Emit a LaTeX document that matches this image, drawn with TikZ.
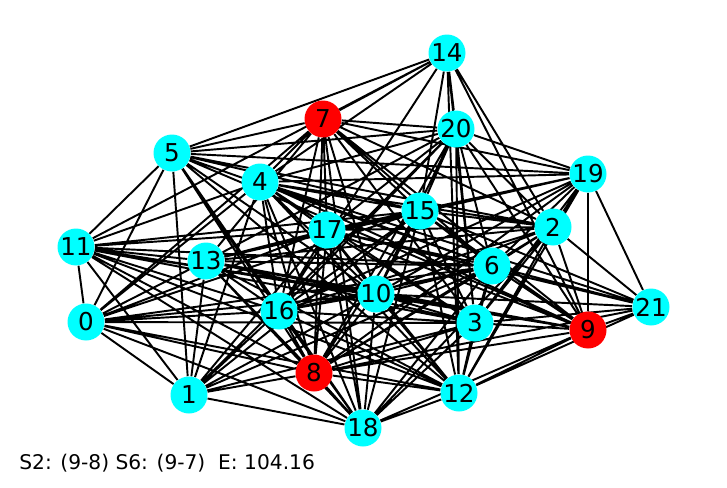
\documentclass[tikz,border=0pt]{standalone}
\usepackage{fontspec}
\setmainfont{DejaVu Sans}
\usetikzlibrary{backgrounds}
\definecolor{nodecyan}{RGB}{0,255,255}
\definecolor{nodered}{RGB}{255,0,0}
\begin{document}
\begin{tikzpicture}[x=0.02cm,y=-0.02cm,
    vert/.style={circle,fill=nodecyan,minimum size=0.74cm,inner sep=0pt,font=\fontsize{14}{16}\selectfont},
    hot/.style={vert,fill=nodered},
    edge/.style={line width=1.1pt,black}]
    \useasboundingbox (0,0) rectangle (727,487);
                    \node[vert] (n14) at (447,53) {14};
                    \node[hot] (n7) at (323,119) {7};
                    \node[vert] (n20) at (456,129) {20};
                    \node[vert] (n5) at (172,153) {5};
                    \node[vert] (n19) at (588,174) {19};
                    \node[vert] (n4) at (260,182) {4};
                    \node[vert] (n15) at (420,211) {15};
                    \node[vert] (n2) at (553,227) {2};
                    \node[vert] (n17) at (327,230) {17};
                    \node[vert] (n11) at (76,247) {11};
                    \node[vert] (n13) at (206,261) {13};
                    \node[vert] (n6) at (492,266) {6};
                    \node[vert] (n10) at (376,294) {10};
                    \node[vert] (n21) at (651,307) {21};
                    \node[vert] (n16) at (279,311) {16};
                    \node[vert] (n0) at (86,322) {0};
                    \node[vert] (n3) at (475,323) {3};
                    \node[hot] (n9) at (588,330) {9};
                    \node[hot] (n8) at (314,373) {8};
                    \node[vert] (n1) at (189,395) {1};
                    \node[vert] (n12) at (459,393) {12};
                    \node[vert] (n18) at (363,428) {18};
                    \node[anchor=base west,inner sep=0pt,font=\fontsize{11.5}{14}\selectfont] (info) at (19,469) {S2: (9-8) S6: (9-7)\ \ E: 104.16};

                \begin{pgfonlayer}{background}
                    \draw[edge] (n14) -- (n5) (n14) -- (n7) (n14) -- (n4) (n14) -- (n11) (n14) -- (n16) (n14) -- (n15)
                           (n14) -- (n20) (n14) -- (n3) (n14) -- (n12) (n14) -- (n2) (n14) -- (n9)
                           (n7) -- (n5) (n7) -- (n20) (n7) -- (n19) (n7) -- (n4) (n7) -- (n13) (n7) -- (n0)
                           (n7) -- (n16) (n7) -- (n17) (n7) -- (n8) (n7) -- (n10) (n7) -- (n15) (n7) -- (n6)
                           (n7) -- (n3) (n7) -- (n2) (n7) -- (n9) (n7) -- (n18)
                           (n20) -- (n19) (n20) -- (n4) (n20) -- (n5) (n20) -- (n13) (n20) -- (n15) (n20) -- (n16)
                           (n20) -- (n1) (n20) -- (n3) (n20) -- (n12) (n20) -- (n6) (n20) -- (n2) (n20) -- (n9)
                           (n20) -- (n8) (n20) -- (n10) (n20) -- (n17)
                           (n19) -- (n9) (n19) -- (n21) (n19) -- (n5) (n19) -- (n4) (n19) -- (n17) (n19) -- (n15)
                           (n19) -- (n13) (n19) -- (n2) (n19) -- (n6) (n19) -- (n3) (n19) -- (n12) (n19) -- (n10)
                           (n19) -- (n16) (n19) -- (n8)
                           (n5) -- (n15) (n5) -- (n2) (n5) -- (n6) (n5) -- (n9) (n5) -- (n10) (n5) -- (n11)
                           (n5) -- (n0) (n5) -- (n1) (n5) -- (n16) (n5) -- (n8) (n5) -- (n18) (n5) -- (n12)
                           (n4) -- (n15) (n4) -- (n2) (n4) -- (n6) (n4) -- (n21) (n4) -- (n9) (n4) -- (n3)
                           (n4) -- (n10) (n4) -- (n17) (n4) -- (n16) (n4) -- (n8) (n4) -- (n18) (n4) -- (n12)
                           (n4) -- (n1) (n4) -- (n0) (n4) -- (n11)
                           (n11) -- (n0) (n11) -- (n1) (n11) -- (n17) (n11) -- (n13) (n11) -- (n15) (n11) -- (n6)
                           (n11) -- (n10) (n11) -- (n3) (n11) -- (n9) (n11) -- (n16) (n11) -- (n8) (n11) -- (n12)
                           (n11) -- (n18)
                           (n0) -- (n13) (n0) -- (n17) (n0) -- (n15) (n0) -- (n6) (n0) -- (n10) (n0) -- (n3)
                           (n0) -- (n16) (n0) -- (n8) (n0) -- (n1) (n0) -- (n18) (n0) -- (n12)
                           (n1) -- (n13) (n1) -- (n17) (n1) -- (n16) (n1) -- (n10) (n1) -- (n15) (n1) -- (n6)
                           (n1) -- (n3) (n1) -- (n8) (n1) -- (n18)
                           (n13) -- (n17) (n13) -- (n15) (n13) -- (n2) (n13) -- (n6) (n13) -- (n10) (n13) -- (n3)
                           (n13) -- (n9) (n13) -- (n16) (n13) -- (n8) (n13) -- (n18) (n13) -- (n12)
                           (n17) -- (n15) (n17) -- (n2) (n17) -- (n6) (n17) -- (n21) (n17) -- (n9) (n17) -- (n3)
                           (n17) -- (n10) (n17) -- (n16) (n17) -- (n8) (n17) -- (n18) (n17) -- (n12)
                           (n15) -- (n2) (n15) -- (n6) (n15) -- (n21) (n15) -- (n9) (n15) -- (n3) (n15) -- (n10)
                           (n15) -- (n12) (n15) -- (n18) (n15) -- (n8) (n15) -- (n16)
                           (n2) -- (n21) (n2) -- (n9) (n2) -- (n6) (n2) -- (n3) (n2) -- (n12) (n2) -- (n18)
                           (n2) -- (n8) (n2) -- (n10) (n2) -- (n16)
                           (n6) -- (n21) (n6) -- (n9) (n6) -- (n3) (n6) -- (n12) (n6) -- (n18) (n6) -- (n8)
                           (n6) -- (n10) (n6) -- (n16)
                           (n10) -- (n21) (n10) -- (n9) (n10) -- (n3) (n10) -- (n12) (n10) -- (n18) (n10) -- (n8)
                           (n10) -- (n16)
                           (n21) -- (n9) (n21) -- (n3) (n21) -- (n12) (n21) -- (n8)
                           (n9) -- (n3) (n9) -- (n16) (n9) -- (n8) (n9) -- (n12) (n9) -- (n18)
                           (n3) -- (n12) (n3) -- (n18) (n3) -- (n8) (n3) -- (n16)
                           (n8) -- (n12) (n8) -- (n18) (n8) -- (n16)
                           (n16) -- (n18) (n16) -- (n12)
                           (n12) -- (n18);
                \end{pgfonlayer}
                \end{tikzpicture}
\end{document}
